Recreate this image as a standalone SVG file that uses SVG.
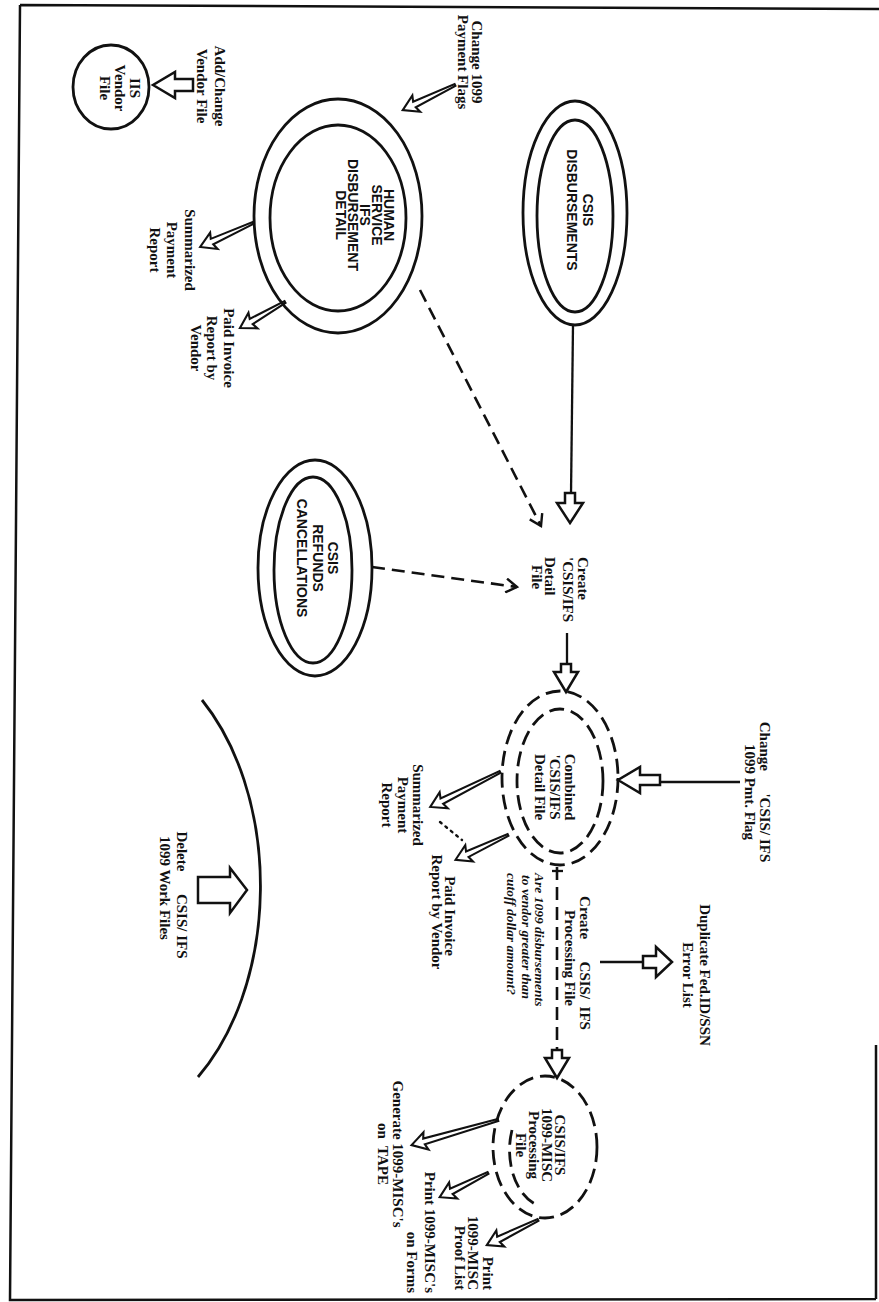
<svg xmlns="http://www.w3.org/2000/svg" width="879" height="1302" viewBox="0 0 879 1302">
<style>
.frame{fill:none;stroke:#111;stroke-width:2.5}
.el{fill:none;stroke:#111;stroke-width:2.8}
.eld{fill:none;stroke:#111;stroke-width:2.8;stroke-dasharray:15 7}
.ln{fill:none;stroke:#111;stroke-width:2.3}
.lnd{fill:none;stroke:#111;stroke-width:2.6;stroke-dasharray:13 7}
.dot{fill:none;stroke:#111;stroke-width:2.4;stroke-dasharray:2 5;stroke-linecap:round}
.hd{fill:#fff;stroke:#111;stroke-width:2.5;stroke-linejoin:miter}
.th{fill:#fff;stroke:#111;stroke-width:2.1}
.lb{font-family:"Liberation Serif","DejaVu Serif",serif;font-weight:bold;font-size:15px;fill:#111;white-space:pre}
.cp{font-family:"Liberation Sans","DejaVu Sans",sans-serif;font-weight:bold;font-size:14px;fill:#111}
.it{font-family:"Liberation Serif","DejaVu Serif",serif;font-weight:bold;font-style:italic;font-size:13.5px;fill:#111}
</style>
<defs>
<marker id="v" markerWidth="16" markerHeight="16" refX="13" refY="8" orient="auto" markerUnits="userSpaceOnUse">
<path d="M2,1 L13,8 L2,15" fill="none" stroke="#111" stroke-width="2.4"/>
</marker>
</defs>
<rect width="879" height="1302" fill="#fff"/>
<g id="frame">
<path class="frame" d="M20,5 L879,9 M20,5 L10,1300 L876,1299 M876,1045 L876,1299"/>
</g>

<g id="connectors">
<path class="ln" d="M573,325 L571,494"/>
<polygon class="hd" points="0,0 -20,-13 -20,-5 -30,-5 -30,5 -20,5 -20,13" transform="translate(570,523) rotate(90)"/>
<path class="lnd" d="M420,290 L541,526" marker-end="url(#v)"/>
<path class="lnd" d="M372,567 L517,587" marker-end="url(#v)"/>
<path class="ln" d="M567,633 L567,665"/>
<polygon class="hd" points="0,0 -20,-12 -20,-5 -28,-5 -28,5 -20,5 -20,12" transform="translate(566,692) rotate(90)"/>
<path class="ln" d="M740,782 L660,782"/>
<polygon class="hd" points="0,0 -22,-13 -22,-5 -42,-5 -42,5 -22,5 -22,13" transform="translate(618,780) rotate(180)"/>
<polygon class="th" points="0,-1 65,-3 63,-9 78,0 63,9 65,3 0,1" transform="translate(500,772) rotate(153.4)"/>
<polygon class="th" points="0,-1 45,-3 43,-9 58,0 43,9 45,3 0,1" transform="translate(508,835) rotate(154.7)"/>
<path class="dot" d="M440,822 L462,840"/>
<path class="ln" d="M552,871 L563,871"/>
<path class="lnd" d="M557,867 L557,1052"/>
<polygon class="hd" points="0,0 -20,-12 -20,-5 -28,-5 -28,5 -20,5 -20,12" transform="translate(557,1078) rotate(90)"/>
<path class="ln" d="M600,962 L643,962"/>
<polygon class="hd" points="0,0 -16,-15 -16,-6 -29,-6 -29,6 -16,6 -16,15" transform="translate(672,962)"/>
<polygon class="th" points="0,-1 45,-3 43,-9 58,0 43,9 45,3 0,1" transform="translate(253,223) rotate(155.6)"/>
<polygon class="th" points="0,-1 39,-3 37,-9 52,0 37,9 39,3 0,1" transform="translate(285,302) rotate(150)"/>
<polygon class="th" points="0,-1 45,-3 43,-9 58,0 43,9 45,3 0,1" transform="translate(455,85) rotate(154.3)"/>
<polygon class="hd" points="0,0 -22,-13 -22,-6 -40,-6 -40,6 -22,6 -22,13" transform="translate(153,85) rotate(180)"/>
<polygon class="th" points="0,-1 77,-3 75,-9 90,0 75,9 77,3 0,1" transform="translate(498,1120) rotate(163.8)"/>
<polygon class="th" points="0,-1 41,-3 39,-9 54,0 39,9 41,3 0,1" transform="translate(488,1173) rotate(153.4)"/>
<polygon class="th" points="0,-1 44,-3 42,-9 57,0 42,9 44,3 0,1" transform="translate(538,1220) rotate(153.9)"/>
<polygon class="hd" points="247,890 230,868 230,877 198,877 198,903 230,903 230,913"/>
<path class="el" d="M202,700 A162,242 0 0,1 198,1077"/>
</g>

<g id="iis-vendor-file">
<ellipse class="el" cx="111" cy="87" rx="38" ry="42"/>
<text class="lb" text-anchor="middle" transform="translate(130,88) rotate(90)"><tspan x="0" y="0">IIS</tspan><tspan x="0" y="15">Vendor</tspan><tspan x="0" y="30">File</tspan></text>
</g>
<g id="add-change-vendor">
<text class="lb" text-anchor="middle" transform="translate(215,86) rotate(90)"><tspan x="0" y="0">Add/Change</tspan><tspan x="0" y="18">Vendor File</tspan></text>
</g>
<g id="change-1099-flags">
<text class="lb" text-anchor="middle" transform="translate(472,62) rotate(90)"><tspan x="0" y="0">Change 1099</tspan><tspan x="0" y="14">Payment Flags</tspan></text>
</g>
<g id="human-service">
<ellipse class="el" cx="338" cy="216" rx="84" ry="117"/>
<ellipse class="el" cx="338" cy="218" rx="68" ry="93"/>
<text class="cp" text-anchor="middle" transform="translate(384,215) rotate(90)"><tspan x="0" y="0">HUMAN</tspan><tspan x="0" y="12">SERVICE</tspan><tspan x="0" y="24">IFS</tspan><tspan x="0" y="36">DISBURSEMENT</tspan><tspan x="0" y="48">DETAIL</tspan></text>
</g>
<g id="summarized-1">
<text class="lb" text-anchor="middle" transform="translate(185,250) rotate(90)"><tspan x="0" y="0">Summarized</tspan><tspan x="0" y="18">Payment</tspan><tspan x="0" y="35">Report</tspan></text>
</g>
<g id="paid-invoice-1">
<text class="lb" text-anchor="middle" transform="translate(224,348) rotate(90)"><tspan x="0" y="0">Paid Invoice</tspan><tspan x="0" y="17">Report by</tspan><tspan x="0" y="33">Vendor</tspan></text>
</g>
<g id="csis-disbursements">
<ellipse class="el" cx="575" cy="213" rx="52" ry="112"/>
<ellipse class="el" cx="575" cy="216" rx="38" ry="96"/>
<text class="cp" text-anchor="middle" transform="translate(583,210) rotate(90)"><tspan x="0" y="0">CSIS</tspan><tspan x="0" y="16">DISBURSEMENTS</tspan></text>
</g>
<g id="csis-refunds">
<ellipse class="el" cx="315" cy="568" rx="57" ry="108"/>
<ellipse class="el" cx="313" cy="570" rx="39" ry="93"/>
<text class="cp" text-anchor="middle" transform="translate(328,558) rotate(90)"><tspan x="0" y="0">CSIS</tspan><tspan x="0" y="15">REFUNDS</tspan><tspan x="0" y="31">CANCELLATIONS</tspan></text>
</g>
<g id="create-detail">
<text class="lb" transform="translate(578,557) rotate(90)"><tspan x="0" y="0">Create</tspan><tspan x="0" y="15">'CSIS/IFS</tspan><tspan x="0" y="33">Detail</tspan><tspan x="8" y="46">File</tspan></text>
</g>
<g id="combined-detail">
<ellipse class="eld" cx="560" cy="778" rx="58" ry="87"/>
<ellipse class="eld" cx="560" cy="781" rx="43" ry="72"/>
<text class="lb" text-anchor="middle" transform="translate(565,787) rotate(90)"><tspan x="0" y="0">Combined</tspan><tspan x="0" y="15">'CSIS/IFS</tspan><tspan x="0" y="30">Detail File</tspan></text>
</g>
<g id="change-pmt-flag">
<text class="lb" text-anchor="middle" transform="translate(760,792) rotate(90)"><tspan x="0" y="0">Change      'CSIS/ IFS</tspan><tspan x="0" y="15">1099 Pmt. Flag</tspan></text>
</g>
<g id="summarized-2">
<text class="lb" text-anchor="middle" transform="translate(413,805) rotate(90)"><tspan x="0" y="0">Summarized</tspan><tspan x="0" y="15">Payment</tspan><tspan x="0" y="31">Report</tspan></text>
</g>
<g id="paid-invoice-2">
<text class="lb" text-anchor="middle" transform="translate(445,914) rotate(90)"><tspan x="2" y="0">Paid Invoice</tspan><tspan x="-2" y="13">Report by Vendor</tspan></text>
</g>
<g id="create-processing">
<text class="lb" text-anchor="middle" transform="translate(580,961) rotate(90)"><tspan x="2" y="0">Create      CSIS/  IFS</tspan><tspan x="-3" y="15">Processing File</tspan></text>
<text class="it" transform="translate(535,873) rotate(90)"><tspan x="0" y="0">Are 1099 disbursements</tspan><tspan x="2" y="13">to vendor greater than</tspan><tspan x="0" y="28">cutoff dollar amount?</tspan></text>
</g>
<g id="duplicate-error">
<text class="lb" text-anchor="middle" transform="translate(700,975) rotate(90)"><tspan x="0" y="0">Duplicate Fed.ID/SSN</tspan><tspan x="0" y="17">Error List</tspan></text>
</g>
<g id="misc-processing">
<ellipse class="eld" cx="545" cy="1147" rx="52" ry="71"/>
<path class="eld" d="M512,1130 A38,57 0 0,0 535,1204"/>
<text class="lb" text-anchor="middle" transform="translate(555,1145) rotate(90)"><tspan x="0" y="0">CSIS/IFS</tspan><tspan x="0" y="13">1099-MISC</tspan><tspan x="0" y="26">Processing</tspan><tspan x="0" y="39">File</tspan></text>
</g>
<g id="generate-tape">
<text class="lb" text-anchor="middle" transform="translate(393,1154) rotate(90)"><tspan x="0" y="0">Generate 1099-MISC's</tspan><tspan x="0" y="15">on  TAPE</tspan></text>
</g>
<g id="print-forms">
<text class="lb" text-anchor="end" transform="translate(425,1293) rotate(90)"><tspan x="0" y="0">Print 1099-MISC's</tspan><tspan x="0" y="18">on Forms</tspan></text>
</g>
<g id="print-proof">
<text class="lb" text-anchor="end" transform="translate(483,1290) rotate(90)"><tspan x="0" y="0">Print</tspan><tspan x="0" y="15">1099-MISC</tspan><tspan x="0" y="28">Proof List</tspan></text>
</g>
<g id="delete-work-files">
<text class="lb" text-anchor="middle" transform="translate(177,895) rotate(90)"><tspan x="0" y="0">Delete      CSIS/ IFS</tspan><tspan x="-7" y="17">1099 Work Files</tspan></text>
</g>
</svg>
